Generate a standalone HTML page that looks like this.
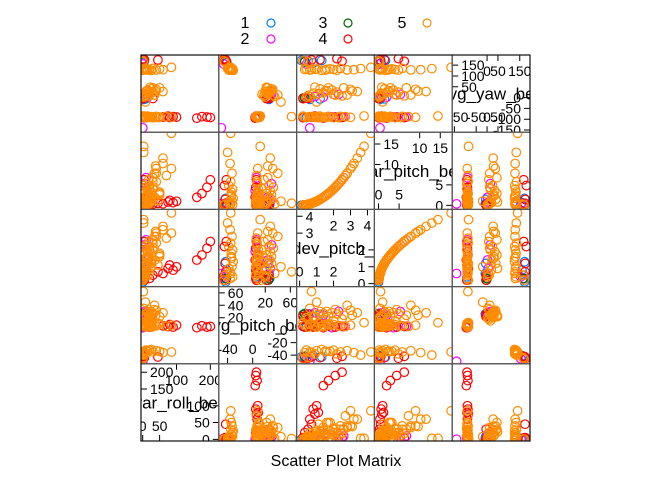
<!DOCTYPE html>
<html><head><meta charset="utf-8"><style>
html,body{margin:0;padding:0;background:#fff}
svg{display:block;font-family:"Liberation Sans",sans-serif}
</style></head><body>
<svg id="chart" width="672" height="480" xmlns="http://www.w3.org/2000/svg">
<g id="legend"></g>
<g id="panels"></g>
<text x="336" y="466" text-anchor="middle" font-size="16">Scatter Plot Matrix</text>
</svg>
<script>
const varNames = ["var_roll_belt","avg_pitch_belt","stddev_pitch_belt","var_pitch_belt","avg_yaw_belt"];
const varRanges = [[-5,225],[-54,70],[-0.18,4.41],[-1,17.9],[-160,197]];
const ticksLeft = [[150,200],[20,40,60],[3,4],[10,15],[50,100,150]];
const ticksTop = [[100,200],[20,60],[2,3,4],[10,15],[0,50,150]];
const ticksBottom = [[0,50],[-40,0],[0,1,2],[0,5],[-150,-50,0,50]];
const ticksRight = [[0,50,100],[-40,-20,0],[0,1,2],[0,5],[-150,-100,-50,0]];
const classLabels = ["1","2","3","4","5"];
const classColors = ["#0080ff","#ff00ff","#006400","#ff0000","#ff8c00"];
const pointClass = [4,1,3,4,1,2,4,4,2,4,1,5,5,5,5,5,5,5,5,5,5,5,5,5,5,5,
 4,4,1,1,3,2,1,2,5,5,5,5,5,5,5,5,5,5,5,5,5,5,5,
 4,4,4,4,4,4,4,4,4,4,4,2,2,1,5,5,5,5,5,5,5,5,5,5,5,5,5,5,
 5,5,5,5,5,5,5,5,5,5,5,5,5,5,5,5,5,5,5,5,4,4,1,2,3,1];
const rollVals = [0.5,0.3,1,2,3,1,5,4,0.2,1,2,2,5,10,15,20,30,40,50,60,85,8,25,3,1,0.5,
 1,2,3,1,1,4,8,6,2,5,10,15,20,25,30,40,50,3,12,60,35,8,2,
 200,190,175,160,100,90,80,75,60,20,5,2,10,3,2,5,10,15,20,25,30,40,50,70,85,3,45,8,
 4,7,12,18,22,28,33,38,6,14,2,9,16,24,4,11,19,27,36,1,30,45,2,15,3,6];
const pitchVals = [-44,-43,-42,-45,-41,-46,-44,-42,-50,-45,-43,-36,-35,-33,-34,-32,-35,-33,-34,-36,-35,-38,-31,-40,-44,-46,
 22,24,26,27,25,28,25,30,18,22,20,28,26,30,24,32,22,35,15,28,40,45,62,
 6,5,7,4,8,5,9,6,7,5,6,4,6,5,8,9,7,10,6,8,9,7,10,6,8,12,11,5,
 20,25,30,18,22,27,33,24,-36,-34,-38,-32,8,6,9,7,10,5,8,12,26,-43,-44,24,26,7];
const sdVals = [0.2,0.1,0.3,0.5,0.8,0.4,1.2,2.5,0.6,2.2,1.3,0.3,0.6,1.0,1.5,2.0,2.4,2.8,1.8,3.2,4.2,0.9,1.3,3.6,0.5,0.2,
 0.2,0.4,0.6,0.3,0.2,0.9,1.2,2.3,0.5,0.8,1.5,1.9,2.2,1.2,2.6,3.0,1.7,0.6,2.0,3.4,2.8,1.0,0.7,
 2.5,2.1,1.7,1.4,1.0,0.8,1.1,0.9,0.6,0.3,0.2,1.9,2.6,0.4,0.3,0.6,0.9,1.2,1.5,1.8,2.0,2.4,1.6,2.7,3.0,3.8,1.1,0.5,
 0.4,1.1,1.6,2.5,0.9,1.4,2.1,3.1,0.7,1.6,2.2,0.4,0.8,1.3,1.7,2.3,0.6,1.0,1.4,0.2,0.5,0.7,0.3,1.4,0.3,0.7];
const yawVals = [170,172,165,168,160,155,175,168,-140,180,172,130,128,132,127,130,135,128,133,129,140,131,126,134,165,170,
 -5,-2,-8,0,-3,5,-6,15,10,20,30,35,25,40,45,38,45,5,15,28,12,-20,-88,
 -92,-90,-88,-95,-90,-88,-92,-86,-90,-91,-93,-89,-90,-92,-90,-88,-92,-86,-91,-89,-93,-87,-90,-88,-91,-85,-92,-90,
 2,18,32,8,48,22,12,30,129,131,127,133,-89,-91,-87,-93,-90,-88,-92,-86,-4,174,170,2,-2,-91];

const NS="http://www.w3.org/2000/svg";
const X0=141, Y0=55, PW=77.8, PH=77.2, N=5;
function mk(tag, attrs, parent){const e=document.createElementNS(NS,tag);for(const k in attrs)e.setAttribute(k,attrs[k]);parent.appendChild(e);return e;}
function getVal(v,i){
  if(v===0) return rollVals[i];
  if(v===1) return pitchVals[i];
  if(v===2) return sdVals[i];
  if(v===3) return sdVals[i]*sdVals[i];
  return yawVals[i];
}
function sx(v,val,col){const r=varRanges[v];return X0+col*PW+(val-r[0])/(r[1]-r[0])*PW;}
function sy(v,val,row){const r=varRanges[v];return Y0+row*PH+PH-(val-r[0])/(r[1]-r[0])*PH;}

const lg=document.getElementById('legend');
const legPos=[[245,28,271],[245,44,271],[323,28,348],[323,44,348],[402,28,427]];
classLabels.forEach((lab,k)=>{
  const g=mk('g',{},lg);
  
  
  const p=legPos[k];
  mk('text',{x:p[0],y:p[1],'text-anchor':'middle','font-size':16},g).textContent=lab;
  mk('circle',{cx:p[2],cy:p[1]-5,r:4,fill:'none',stroke:classColors[k],'stroke-width':1.2},g);
});

const panels=document.getElementById('panels');
const defs=mk('defs',{},panels);
for(let row=0;row<N;row++){
  for(let col=0;col<N;col++){
    const px=X0+col*PW, py=Y0+row*PH;
    const g=mk('g',{},panels);
    
    
    const cid='clip'+row+'_'+col;
    const cp=mk('clipPath',{id:cid},defs);
    mk('rect',{x:px,y:py,width:PW,height:PH},cp);
    const yv=N-1-row, xv=col;
    if(xv===yv){
      const v=xv, cg=mk('g',{'clip-path':'url(#'+cid+')'},g);
      ticksLeft[v].forEach(t=>{const ty=sy(v,t,row);
        mk('line',{x1:px,y1:ty,x2:px+6,y2:ty,stroke:'#000','stroke-width':1},cg);
        mk('text',{x:px+9,y:ty+5,'font-size':14},cg).textContent=t;});
      ticksTop[v].forEach(t=>{const tx=sx(v,t,col);
        mk('line',{x1:tx,y1:py,x2:tx,y2:py+6,stroke:'#000','stroke-width':1},cg);
        mk('text',{x:tx,y:py+21,'font-size':14,'text-anchor':'middle'},cg).textContent=t;});
      ticksRight[v].forEach(t=>{const ty=sy(v,t,row);
        mk('line',{x1:px+PW,y1:ty,x2:px+PW-6,y2:ty,stroke:'#000','stroke-width':1},cg);
        mk('text',{x:px+PW-9,y:ty+5,'font-size':14,'text-anchor':'end'},cg).textContent=t;});
      ticksBottom[v].forEach(t=>{const tx=sx(v,t,col);
        mk('line',{x1:tx,y1:py+PH,x2:tx,y2:py+PH-6,stroke:'#000','stroke-width':1},cg);
        mk('text',{x:tx,y:py+PH-10,'font-size':14,'text-anchor':'middle'},cg).textContent=t;});
      const nm=mk('text',{x:px+PW/2,y:py+PH/2+6,'font-size':17,'text-anchor':'middle'},cg);
      nm.textContent=varNames[v];
      
      
    } else {
      const cg=mk('g',{'clip-path':'url(#'+cid+')'},g);
      for(let k=0;k<classLabels.length;k++){
        for(let i=0;i<pointClass.length;i++){
          if(pointClass[i]!==k+1) continue;
          const c=mk('circle',{cx:sx(xv,getVal(xv,i),col),cy:sy(yv,getVal(yv,i),row),r:4.3,fill:'none',stroke:classColors[k],'stroke-width':1.2},cg);
          
          
        }
      }
    }
    mk('rect',{x:px,y:py,width:PW,height:PH,fill:'none',stroke:'#555','stroke-width':1.2},g);
  }
}
mk('rect',{x:X0,y:Y0,width:PW*N,height:PH*N,fill:'none',stroke:'#000','stroke-width':1},panels);
</script>
</body></html>
